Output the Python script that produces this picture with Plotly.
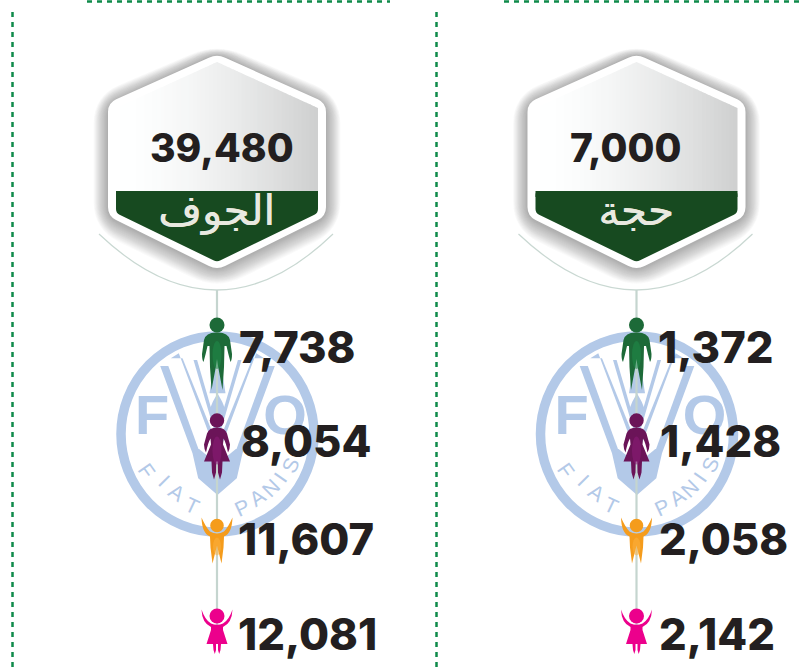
import plotly.graph_objects as go

# --- data ---
regions = ["الجوف", "حجة"]
totals = [39480, 7000]
men = [7738, 1372]
women = [8054, 1428]
boys = [11607, 2058]
girls = [12081, 2142]

panel_centres = [217.0, 636.5]
total_left = [150, 570]
number_font = "Inter"
W, H = 802, 668

shapes = []


def add(path, fill=None, line=None, lw=0, opacity=1.0):
    shapes.append(dict(type="path", path=path, fillcolor=fill or "rgba(0,0,0,0)",
                       line=dict(color=line or "rgba(0,0,0,0)", width=lw),
                       opacity=opacity, layer="below", xref="x", yref="y"))


def rounded(points, r):
    n = len(points)
    out = []
    for i in range(n):
        p0, p1, p2 = points[i - 1], points[i], points[(i + 1) % n]

        def toward(a, b, d):
            L = ((a[0] - b[0]) ** 2 + (a[1] - b[1]) ** 2) ** 0.5
            t = min(d / L, 0.5)
            return a[0] + (b[0] - a[0]) * t, a[1] + (b[1] - a[1]) * t
        a = toward(p1, p0, r)
        b = toward(p1, p2, r)
        out.append(("M" if i == 0 else "L") + f"{a[0]:.2f},{a[1]:.2f}")
        out.append(f"Q{p1[0]:.2f},{p1[1]:.2f} {b[0]:.2f},{b[1]:.2f}")
    return " ".join(out) + " Z"


def hexagon(cx, half, top, sh1, sh2, bottom):
    return [(cx, top), (cx + half, sh1), (cx + half, sh2), (cx, bottom), (cx - half, sh2), (cx - half, sh1)]


def draw_logo(cx):
    blue = "#b3c9e8"
    cy = 434

    def z(zx, zy):
        return cx + (zx - 320) / 3, 310 + zy / 3

    def poly(pts):
        return "M" + " L".join(f"{x:.1f},{y:.1f}" for x, y in (z(*p) for p in pts)) + " Z"

    def mirror(pts):
        return pts + [(640 - x, y) for x, y in reversed(pts)]
    shapes.append(dict(type="circle", x0=cx - 96.5, x1=cx + 96.5, y0=cy - 98, y1=cy + 98,
                       line=dict(color=blue, width=9.5), fillcolor="rgba(0,0,0,0)",
                       layer="below", xref="x", yref="y"))
    # wheat ear: bowl and outer band
    add(poly(mirror([(148, 168), (245, 430), (262, 505), (320, 555)])), fill=blue)
    add(poly(mirror([(168, 155), (262, 415), (320, 462)])), fill="#ffffff")
    # second band
    add(poly(mirror([(180, 145), (204, 130), (320, 440)])), fill=blue)
    add(poly(mirror([(206, 122), (320, 405)])), fill="#ffffff")
    # middle band with the central grain
    add(poly(mirror([(222, 150), (248, 150), (320, 395)])), fill=blue)
    add(poly(mirror([(250, 120), (320, 360)])), fill="#ffffff")
    # letter A and grain
    add(poly(mirror([(268, 250), (296, 250), (308, 170), (320, 95)])), fill=blue)
    add(poly(mirror([(298, 295), (306, 275), (320, 250)]) + [(340, 310), (320, 322), (300, 310)]), fill=blue)


def person(cx, cy, kind):
    def P(dx, dy):
        return f"{cx + dx:.2f},{cy + dy:.2f}"
    cols = {"man": ("#1d6a38", "#1f8a49", 7.5), "woman": ("#6b1458", "#8c1b78", 7.2),
            "boy": ("#f59c1c", "#fbb040", 6.8), "girl": ("#ec008c", "#ec008c", 7.5)}
    dark, light, r = cols[kind]
    if kind == "man":
        d = (f"M{P(0,7.5)} Q{P(-11,7)} {P(-13,15)} L{P(-15,29)} Q{P(-15,35)} {P(-13.5,37)} "
             f"Q{P(-11,28)} {P(-9.5,21)} L{P(-7.5,21)} L{P(-7,42)} L{P(-5.5,65)} L{P(-1.2,42)} L{P(0,34)} "
             f"L{P(1.2,42)} L{P(5.5,65)} L{P(7,42)} L{P(7.5,21)} L{P(9.5,21)} Q{P(11,28)} {P(13.5,37)} "
             f"Q{P(15,35)} {P(15,29)} L{P(13,15)} Q{P(11,7)} {P(0,7.5)} Z")
    elif kind == "woman":
        d = (f"M{P(0,7)} Q{P(-8,7)} {P(-10,13)} L{P(-13,24)} Q{P(-13,28)} {P(-11,32)} Q{P(-9,22)} {P(-6.5,18)} "
             f"L{P(-6,24)} L{P(-13,41)} L{P(-5.5,41)} L{P(-5,52)} L{P(-3,59)} L{P(-1,52)} L{P(-0.8,41)} L{P(0.8,41)} "
             f"L{P(1,52)} L{P(3,59)} L{P(5,52)} L{P(5.5,41)} L{P(13,41)} L{P(6,24)} L{P(6.5,18)} "
             f"Q{P(9,22)} {P(11,32)} Q{P(13,28)} {P(13,24)} L{P(10,13)} Q{P(8,7)} {P(0,7)} Z")
    elif kind == "boy":
        d = (f"M{P(-15.5,-8)} Q{P(-15,8)} {P(-7,11)} L{P(-6.5,22)} L{P(-4.5,38)} L{P(-1,24)} L{P(0,20)} L{P(1,24)} "
             f"L{P(4.5,38)} L{P(6.5,22)} L{P(7,11)} Q{P(15,8)} {P(15.5,-8)} Q{P(11,2)} {P(7,6)} "
             f"Q{P(0,10)} {P(-7,6)} Q{P(-11,2)} {P(-15.5,-8)} Z")
    else:
        d = (f"M{P(-15.5,-6.5)} Q{P(-15,7)} {P(-6,11)} L{P(-6,14)} L{P(-10.5,28)} L{P(-4,28)} L{P(-3.5,34)} L{P(-2.2,38)} "
             f"L{P(-1,34)} L{P(-1,28)} L{P(1,28)} L{P(1,34)} L{P(2.2,38)} L{P(3.5,34)} L{P(4,28)} L{P(10.5,28)} L{P(6,14)} L{P(6,11)} "
             f"Q{P(15,7)} {P(15.5,-6.5)} Q{P(12,4)} {P(6,7.5)} Q{P(0,10)} {P(-6,7.5)} Q{P(-12,4)} {P(-15.5,-6.5)} Z")
    add(d, fill=dark)
    shapes.append(dict(type="circle", x0=cx - r, x1=cx + r, y0=cy - r, y1=cy + r, fillcolor=dark,
                       line=dict(width=0), layer="below", xref="x", yref="y"))
    if kind in ("man", "woman", "boy"):
        top = 16 if kind != "boy" else 12
        rx, ry = (4.5, 14) if kind != "boy" else (4, 9)
        shapes.append(dict(type="circle", x0=cx - rx, x1=cx + rx, y0=cy + top, y1=cy + top + 2 * ry, fillcolor=light,
                           opacity=0.55, line=dict(width=0), layer="below", xref="x", yref="y"))


frame_colour = "#0f8a4a"
for x0, x1 in [(87, 390), (504, W)]:
    shapes.append(dict(type="line", x0=x0, x1=x1, y0=1.5, y1=1.5, layer="below", xref="x", yref="y",
                       line=dict(color=frame_colour, width=2.5, dash="5px,5px")))
for x in [12.5, 436.5]:
    shapes.append(dict(type="line", x0=x, x1=x, y0=12, y1=H, layer="below", xref="x", yref="y",
                       line=dict(color=frame_colour, width=2.5, dash="5px,5px")))

for cx in panel_centres:
    draw_logo(cx + 0.5)
    add(f"M{cx - 118},234 Q{cx},346 {cx + 116},234", line="#c9d8d2", lw=1.2)
    shapes.append(dict(type="line", x0=cx, x1=cx, y0=290, y1=625, layer="below", xref="x", yref="y",
                       line=dict(color="#c5d5cf", width=2.2)))
    # soft shadow
    for g in range(18, 0, -1):
        add(rounded(hexagon(cx, 109 + g * 0.8, 54 - g * 0.6, 105 - g * 0.5, 217 + g * 0.7, 270 + g * 1.1), 10 + g),
            fill="#505050", opacity=0.028)
    add(rounded(hexagon(cx, 109, 54, 103, 216, 270), 9), fill="#ffffff")
    half = 101
    steps = 50
    for i in range(steps):
        xa = cx - half + 2 * half * i / steps
        xb = cx - half + 2 * half * (i + 1) / steps + 0.6
        xb_c = min(xb, cx + half)

        def top(x):
            return 62 + (108 - 62) * abs(x - cx) / half
        t = i / (steps - 1)
        c = int(255 - 48 * t ** 1.6)
        col = f"rgb({c},{c + 1},{c + 1})"
        pts = [(xa, top(xa))]
        if xa < cx < xb_c:
            pts.append((cx, top(cx)))
        pts += [(xb_c, top(xb_c)), (xb_c, 191.5), (xa, 191.5)]
        add("M" + " L".join(f"{a:.2f},{b:.2f}" for a, b in pts) + " Z", fill=col)
    band = rounded([(cx - half, 191), (cx + half, 191), (cx + half, 213), (cx, 262), (cx - half, 213)], 4)
    add(band, fill="#174a20")
    add(f"M{cx - half},191 L{cx + half},191 L{cx + half},197 L{cx - half},197 Z", fill="#174a20")

fig = go.Figure()

for cx in panel_centres:
    person(cx, 325, "man")
    person(cx, 420.5, "woman")
    person(cx, 525.5, "boy")
    person(cx, 616, "girl")


def text_trace(x, y, text, size, colour, family=number_font, weight=800, position="middle right", shadow=None):
    font = dict(size=size, color=colour, family=family, weight=weight)
    if shadow:
        font["shadow"] = shadow
    fig.add_trace(go.Scatter(x=x, y=y, text=text, mode="text", textposition=position, hoverinfo="skip",
                             textfont=font, showlegend=False, cliponaxis=False))


logo_blue = "#b3c9e8"
for cx in panel_centres:
    text_trace([cx - 65, cx + 68], [420, 420], ["F", "O"], 56, logo_blue,
               family="Liberation Sans", weight=700, position="middle center")

motto = [("F", -70, 470, 55), ("I", -52.5, 480, 45), ("A", -40, 492, 35), ("T", -25, 505, 25),
         ("P", 25, 507, -25), ("A", 40, 497, -35), ("N", 53, 488, -45), ("I", 63, 477, -55), ("S", 73, 465, -65)]
annotations = []
for cx in panel_centres:
    for ch, dx, y, ang in motto:
        annotations.append(dict(x=cx + dx, y=y, text=ch, showarrow=False, textangle=ang, xref="x", yref="y",
                                font=dict(family="Liberation Sans", size=21, color=logo_blue)))

for i, cx in enumerate(panel_centres):
    text_trace([total_left[i]], [152], [f"{totals[i]:,}"], 39, "#231f20")
    text_trace([cx - 0.5], [214], [regions[i]], 42, "#e9e9e0", family="DejaVu Sans", weight=400, position="middle center",
               shadow="0.6px 0 0 #e9e9e0")

rows = [(men, 352, [239, 658]), (women, 446, [241, 660]), (boys, 544, [238, 659]), (girls, 639, [238, 659])]
for vals, y, lefts in rows:
    text_trace(lefts, [y, y], [f"{v:,}" for v in vals], 43.5, "#231f20")

fig.update_layout(width=W, height=H, margin=dict(l=0, r=0, t=0, b=0), paper_bgcolor="white", plot_bgcolor="white",
                  xaxis=dict(range=[0, W], visible=False, fixedrange=True),
                  yaxis=dict(range=[H, 0], visible=False, fixedrange=True),
                  shapes=shapes, annotations=annotations, showlegend=False)
fig.write_html("out.html", config=dict(displayModeBar=False),
               post_script="document.body.style.margin='0';document.body.style.overflow='hidden';")
